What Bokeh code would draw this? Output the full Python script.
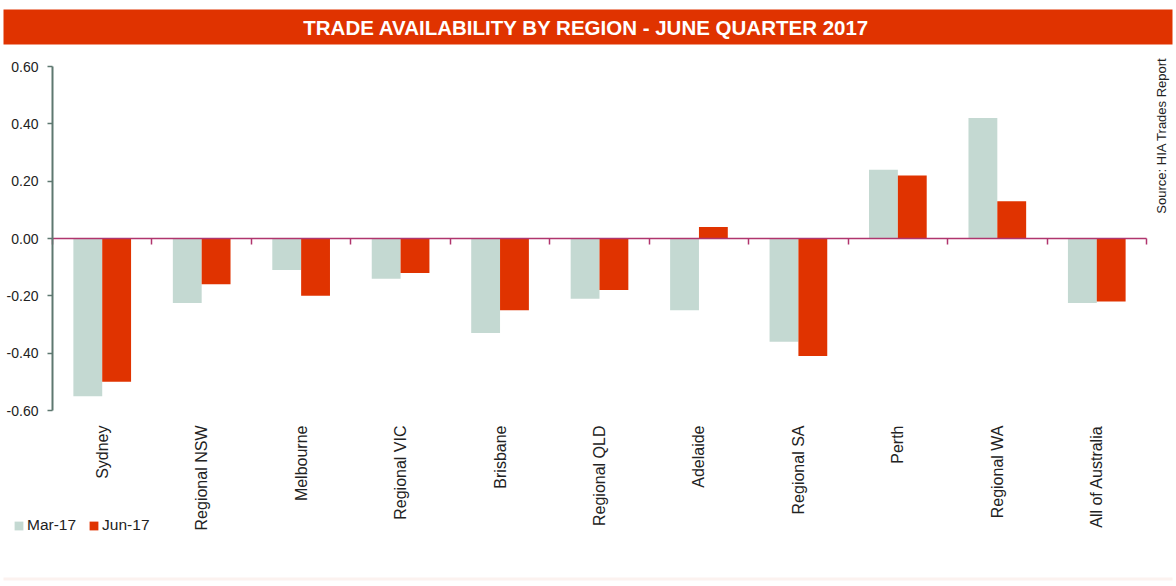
from math import pi
from bokeh.plotting import figure
from bokeh.models import (Range1d, LinearAxis, FixedTicker, NumeralTickFormatter,
                          BoxAnnotation, Label, Legend, LegendItem)
from bokeh.transform import dodge
from bokeh.embed import file_html
from bokeh.resources import INLINE

categories = ["Sydney", "Regional NSW", "Melbourne", "Regional VIC", "Brisbane", "Regional QLD",
              "Adelaide", "Regional SA", "Perth", "Regional WA", "All of Australia"]
mar17 = [-0.55, -0.225, -0.11, -0.14, -0.33, -0.21, -0.25, -0.36, 0.24, 0.42, -0.225]
jun17 = [-0.50, -0.16, -0.20, -0.12, -0.25, -0.18, 0.04, -0.41, 0.22, 0.13, -0.22]
y_ticks = [-0.6, -0.4, -0.2, 0.0, 0.2, 0.4, 0.6]
title_text = "TRADE AVAILABILITY BY REGION - JUNE QUARTER 2017"
source_text = "Source: HIA Trades Report"
series_names = ["Mar-17", "Jun-17"]

RED = "#e03300"
SAGE = "#c4d9d2"
FONT = "Liberation Sans"
TXT = "#222222"

# layout (pixels on the 1176x586 canvas)
W, H = 1176, 586
AX_L, AX_R, AX_T, AX_B = 52, 1146, 66, 410

n = len(categories)
ymin, ymax = y_ticks[0], y_ticks[-1]
xppu = (AX_R - AX_L) / n
yppu = (AX_B - AX_T) / (ymax - ymin)
x_range = Range1d(-AX_L / xppu, n + (W - AX_R) / xppu)
y_range = Range1d(ymin - (H - AX_B) / yppu, ymax + AX_T / yppu)

centers = [i + 0.5 for i in range(n)]
data = dict(xc=centers, mar=mar17, jun=jun17)

p = figure(width=W, height=H, x_range=x_range, y_range=y_range,
           output_backend="svg", toolbar_location=None,
           x_axis_location=None, y_axis_location=None,
           min_border=0, min_border_left=0, min_border_right=0,
           min_border_top=0, min_border_bottom=0)
p.outline_line_color = None
p.xgrid.grid_line_color = None
p.ygrid.grid_line_color = None
p.background_fill_color = "white"
p.border_fill_color = "white"

r1 = p.vbar(x=dodge("xc", -0.145), top="mar", width=0.29, source=data,
            fill_color=SAGE, line_color=None)
r2 = p.vbar(x=dodge("xc", 0.145), top="jun", width=0.29, source=data,
            fill_color=RED, line_color=None)

# category label axis (at the bottom of the value range)
xa = LinearAxis(fixed_location=ymin, ticker=FixedTicker(ticks=centers),
                major_label_overrides={c: lab for c, lab in zip(centers, categories)},
                axis_line_color=None, major_tick_line_color=None, minor_tick_line_color=None,
                major_tick_out=0, major_tick_in=0,
                major_label_orientation=pi / 2, major_label_standoff=15,
                major_label_text_font=FONT, major_label_text_font_size="16px",
                major_label_text_color=TXT)
p.add_layout(xa, "below")

# zero line axis with boundary ticks
zax = LinearAxis(fixed_location=0, bounds=(0, n),
                 ticker=FixedTicker(ticks=list(range(n + 1))),
                 axis_line_color="#b0356e", axis_line_width=1.5,
                 major_tick_line_color="#b0356e", major_tick_line_width=1.5,
                 major_tick_out=6, major_tick_in=0, minor_tick_line_color=None,
                 major_label_text_font_size="0px", major_label_text_alpha=0,
                 major_label_standoff=0)
p.add_layout(zax, "below")

# value axis
ya = LinearAxis(fixed_location=0, bounds=(ymin, ymax),
                ticker=FixedTicker(ticks=y_ticks),
                formatter=NumeralTickFormatter(format="0.00"),
                axis_line_color="#5e7870", axis_line_width=2,
                major_tick_line_color="#5e7870", major_tick_line_width=1.5,
                major_tick_out=5, major_tick_in=0, minor_tick_line_color=None,
                major_label_standoff=9, major_label_text_font=FONT,
                major_label_text_font_size="14px", major_label_text_color=TXT)
p.add_layout(ya, "left")

# title bar (screen units measured from the frame's lower-left = canvas lower-left)
p.add_layout(BoxAnnotation(left=3, right=1172, bottom=H - 44, top=H - 9,
                           left_units="screen", right_units="screen",
                           bottom_units="screen", top_units="screen",
                           fill_color=RED, fill_alpha=1, line_color=None, level="underlay"))
p.add_layout(Label(x=586, y=H - 27, x_units="screen", y_units="screen", text=title_text,
                   text_color="white", text_font=FONT, text_font_style="bold",
                   text_font_size="20.5px", text_align="center", text_baseline="middle",
                   level="overlay"))

# source label
p.add_layout(Label(x=1161, y=H - 135, x_units="screen", y_units="screen", text=source_text,
                   angle=pi / 2, text_color=TXT, text_font=FONT, text_font_size="13px",
                   text_align="center", text_baseline="middle"))

# bottom faint band
p.add_layout(BoxAnnotation(left=3, right=1172, bottom=H - 580, top=H - 577,
                           left_units="screen", right_units="screen",
                           bottom_units="screen", top_units="screen",
                           fill_color="#fcf2ef", fill_alpha=1, line_color=None, level="underlay"))

legend = Legend(items=[LegendItem(label=series_names[0], renderers=[r1]),
                       LegendItem(label=series_names[1], renderers=[r2])],
                location=(13, H - 534), orientation="horizontal",
                glyph_width=11, glyph_height=11, label_height=15, label_standoff=3,
                spacing=12, padding=0, margin=0, border_line_color=None,
                background_fill_alpha=0, label_text_font=FONT,
                label_text_font_size="15.5px", label_text_color=TXT)
p.add_layout(legend, "center")

open("out.html", "w").write(file_html(p, INLINE))
